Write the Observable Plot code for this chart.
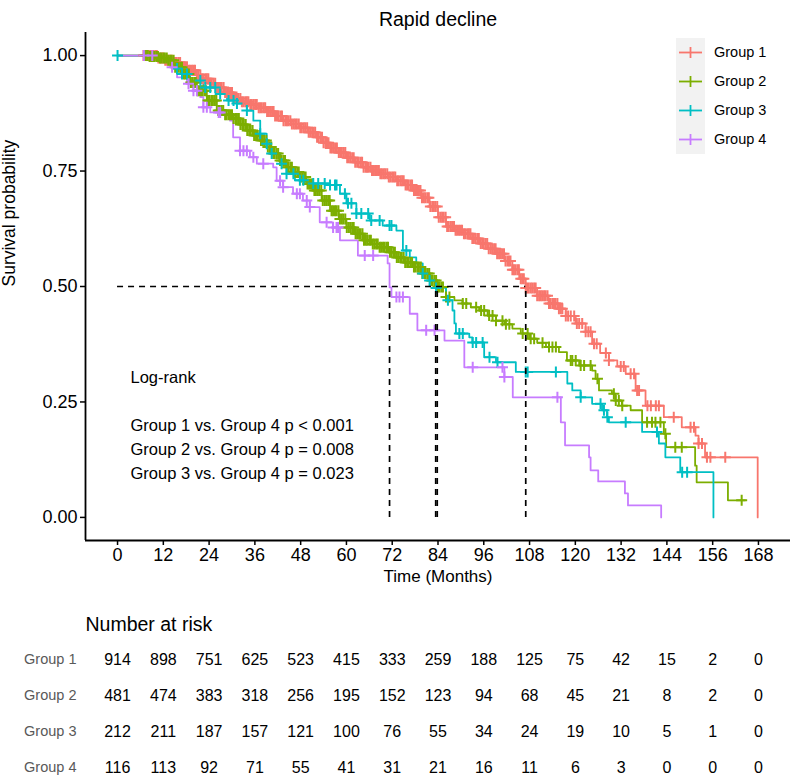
<!DOCTYPE html>
<html>
<head>
<meta charset="utf-8">
<script src="https://cdn.jsdelivr.net/npm/d3@7"></script>
<script src="https://cdn.jsdelivr.net/npm/@observablehq/plot@0.6"></script>
<style>
  body { margin: 0; background: #fff; font-family: "Liberation Sans", Arial, sans-serif; }
  #wrap { position: relative; width: 794px; height: 776px; overflow: hidden; }
  #wrap svg { display: block; }
  #legend { position: absolute; left: 676px; top: 38px; }
  .lrow { position: relative; height: 29px; width: 120px; }
  .lkey { position: absolute; left: 0; top: 0; width: 29px; height: 29px; background: #F2F2F2; }
  .llab { position: absolute; left: 38px; top: 0; line-height: 29px; font-size: 14.5px; color: #000; white-space: nowrap; }
</style>
</head>
<body>
<div id="wrap"><div id="legend"></div></div>
<script>
// ---------------- data ----------------
const groups = ["Group 1", "Group 2", "Group 3", "Group 4"];
const colors = ["#F8766D", "#7CAE00", "#00BFC4", "#C77CFF"];

// step curves: time (months) where survival drops, and the new survival value
const g1Time = [0, 10.5, 12.5, 14.5, 16.5, 18.5, 20.5, 22, 24, 26, 28, 30.3, 32.5, 34.7, 37, 39.1, 41.2, 43.4, 45.6, 47.8, 50, 52.2, 54, 55.7, 58, 60, 62.2, 64.3, 66.5, 68.7, 71, 73.1, 75.3, 77.4, 79.6, 81.8, 84, 86.1, 88.3, 90.4, 92.6, 94.8, 97, 99.2, 101.4, 103.5, 105.3, 107, 110, 113, 115.7, 117.5, 120.1, 122.7, 124.4, 126.5, 128.8, 131, 133.2, 135.8, 138.4, 143.2, 147.9, 151.5, 152.3, 154, 167.8];
const g1Surv = [1, 0.995, 0.99, 0.985, 0.976, 0.968, 0.958, 0.95, 0.94, 0.931, 0.92, 0.907, 0.9, 0.894, 0.887, 0.879, 0.869, 0.859, 0.852, 0.844, 0.834, 0.823, 0.811, 0.80, 0.79, 0.779, 0.769, 0.758, 0.751, 0.744, 0.737, 0.729, 0.72, 0.708, 0.692, 0.673, 0.65, 0.63, 0.622, 0.614, 0.604, 0.593, 0.582, 0.571, 0.555, 0.536, 0.517, 0.497, 0.48, 0.463, 0.452, 0.436, 0.42, 0.402, 0.376, 0.356, 0.34, 0.327, 0.311, 0.275, 0.242, 0.217, 0.195, 0.177, 0.16, 0.13, 0];

const g2Time = [0, 8, 11, 13, 15, 17.3, 19, 20.8, 23.4, 26, 28.2, 30.4, 32.2, 33.9, 35.6, 37.4, 39.1, 40.8, 42.6, 44.3, 46, 47.8, 49.5, 51.2, 53.5, 55.7, 58, 60, 62.2, 64.3, 66.5, 68.7, 71, 73.1, 75.3, 77.4, 79.6, 81.8, 83.8, 86.1, 88.3, 90.4, 92.6, 94.8, 97, 99.2, 101.4, 103.5, 105.7, 107.9, 110, 112.3, 115.7, 117.8, 121, 124.4, 125.3, 126.2, 129.6, 130.5, 132.2, 134.5, 137.5, 143.2, 143.8, 151.4, 151.8, 160, 164.5];
const g2Surv = [1, 0.998, 0.995, 0.99, 0.975, 0.96, 0.942, 0.924, 0.903, 0.881, 0.872, 0.864, 0.851, 0.838, 0.827, 0.816, 0.802, 0.788, 0.773, 0.758, 0.748, 0.737, 0.722, 0.708, 0.686, 0.664, 0.646, 0.628, 0.614, 0.60, 0.592, 0.585, 0.574, 0.563, 0.552, 0.542, 0.528, 0.513, 0.499, 0.477, 0.47, 0.463, 0.455, 0.448, 0.437, 0.426, 0.418, 0.409, 0.398, 0.387, 0.378, 0.369, 0.358, 0.34, 0.329, 0.318, 0.30, 0.275, 0.268, 0.253, 0.242, 0.232, 0.206, 0.181, 0.152, 0.112, 0.076, 0.037, 0.037];

const g3Time = [0, 12.5, 14.7, 16.5, 19, 22.5, 26, 28.7, 31.3, 33.9, 35.6, 37.4, 39.1, 40, 42.6, 44.3, 46.5, 49, 55.7, 58.3, 60, 62.6, 66.1, 69.5, 73.1, 74.8, 76.6, 78.3, 80, 81.8, 83.4, 86.1, 87.8, 88.3, 88.7, 92.2, 93, 96.1, 99.2, 104.4, 117.9, 119.2, 121.4, 124.4, 127, 128.3, 128.8, 137.5, 141.9, 143.6, 147.5, 156.2];
const g3Surv = [1, 0.985, 0.972, 0.96, 0.946, 0.931, 0.917, 0.903, 0.896, 0.881, 0.859, 0.831, 0.809, 0.788, 0.766, 0.744, 0.73, 0.723, 0.72, 0.701, 0.68, 0.658, 0.643, 0.632, 0.621, 0.578, 0.563, 0.55, 0.528, 0.513, 0.497, 0.47, 0.448, 0.42, 0.398, 0.39, 0.379, 0.347, 0.336, 0.315, 0.29, 0.275, 0.26, 0.246, 0.232, 0.217, 0.206, 0.185, 0.16, 0.13, 0.098, 0];

const g4Time = [0, 12.5, 13.8, 15.6, 18.2, 19.9, 21.7, 22.5, 24.3, 27.7, 29.5, 30.3, 32.1, 34.7, 36.5, 40.8, 41.7, 43.4, 46, 48.6, 50.4, 53, 56.5, 58.3, 63, 70.8, 71.3, 71.8, 76.6, 78.6, 85.7, 90.9, 101.4, 103.6, 116.2, 117.3, 123.6, 124, 126, 133, 133.8, 142.5];
const g4Surv = [1, 0.99, 0.975, 0.953, 0.939, 0.924, 0.91, 0.888, 0.877, 0.874, 0.859, 0.823, 0.794, 0.78, 0.766, 0.758, 0.729, 0.715, 0.701, 0.686, 0.672, 0.639, 0.628, 0.60, 0.567, 0.55, 0.498, 0.477, 0.441, 0.405, 0.383, 0.325, 0.304, 0.26, 0.206, 0.156, 0.13, 0.102, 0.078, 0.052, 0.026, 0];

// censoring times (months)
const g1Censor = [6.8, 7.2, 7.7, 8.1, 8.5, 9.0, 9.4, 9.9, 10.3, 10.7, 11.2, 11.6, 12.0, 12.5, 12.9, 13.3, 13.8, 14.2, 14.7, 15.1, 15.5, 16.0, 16.4, 16.8, 17.3, 17.7, 18.2, 18.6, 19.0, 19.5, 19.9, 20.3, 20.8, 21.2, 21.7, 22.1, 22.5, 23.0, 23.4, 23.8, 24.3, 24.7, 25.2, 25.6, 26.0, 26.5, 26.9, 27.3, 27.8, 28.2, 28.7, 29.1, 29.5, 30.0, 30.4, 30.8, 31.3, 31.7, 32.2, 32.6, 33.0, 33.5, 33.9, 34.3, 34.8, 35.2, 35.7, 36.1, 36.5, 37.0, 37.4, 37.8, 38.3, 38.7, 39.2, 39.6, 40.0, 40.5, 40.9, 41.3, 41.8, 42.2, 42.7, 43.1, 43.5, 44.0, 44.4, 44.8, 45.3, 45.7, 46.2, 46.6, 47.0, 47.5, 47.9, 48.3, 48.8, 49.2, 49.7, 50.1, 50.5, 51.0, 51.4, 51.8, 52.3, 52.7, 53.2, 53.6, 54.0, 54.5, 54.9, 55.3, 55.8, 56.2, 56.7, 57.1, 57.5, 58.0, 58.4, 58.8, 59.3, 59.7, 60.2, 60.6, 61.0, 61.5, 61.9, 62.3, 62.8, 63.2, 63.7, 64.1, 64.5, 65.0, 65.4, 65.8, 66.3, 66.7, 67.2, 67.6, 68.0, 68.5, 68.9, 69.3, 69.8, 70.2, 70.7, 71.1, 71.5, 72.0, 72.4, 72.8, 73.3, 73.7, 74.2, 74.6, 75.0, 75.5, 75.9, 76.3, 76.8, 77.2, 77.7, 78.1, 78.5, 79.0, 79.4, 79.8, 80.3, 80.7, 81.2, 81.6, 82.0, 82.5, 82.9, 83.3, 83.8, 84.2, 84.7, 85.1, 85.5, 86.0, 86.4, 86.8, 87.3, 87.7, 88.2, 88.6, 89.0, 89.5, 89.9, 90.3, 90.8, 91.2, 91.7, 92.1, 92.5, 93.0, 93.4, 93.8, 94.3, 94.7, 95.2, 95.6, 96.0, 96.5, 96.9, 97.3, 97.8, 98.2, 98.7, 99.1, 99.5, 100.0, 100.4, 100.8, 101.3, 101.7, 102.2, 102.6, 103.0, 103.5, 103.9, 104.3, 104.8, 105.2, 105.7, 106.1, 106.5, 107.0, 107.4, 107.8, 108.3, 108.7, 109.2, 109.6, 110.0, 110.5, 110.9, 111.3, 111.8, 112.2, 112.7, 113.1, 113.5, 114.0, 114.4, 114.8, 115.3, 115.7, 116.2, 116.6, 117.5, 118.1, 118.8, 119.7, 120.4, 121, 121.8, 122.7, 123.4, 124, 124.9, 125.6, 128, 128.8, 131.9, 132.7, 134.5, 135.4, 136.2, 136.7, 138.9, 139.8, 141.1, 141.9, 145.8, 150.2, 151.1, 152.3, 153.2, 154.5, 155.4, 159.3];
const g2Censor = [7.0, 7.5, 7.9, 8.4, 8.8, 9.3, 9.7, 10.2, 10.6, 11.1, 11.5, 12.0, 12.4, 12.9, 13.3, 13.8, 14.2, 14.7, 15.1, 15.6, 16.0, 16.5, 16.9, 17.4, 17.8, 18.3, 18.7, 19.2, 19.6, 20.1, 20.5, 21.0, 21.4, 21.9, 22.3, 22.8, 23.2, 23.7, 24.1, 24.6, 25.0, 25.5, 25.9, 26.4, 26.8, 27.3, 27.7, 28.2, 28.6, 29.1, 29.5, 30.0, 30.4, 30.9, 31.3, 31.8, 32.2, 32.7, 33.1, 33.6, 34.0, 34.5, 34.9, 35.4, 35.8, 36.3, 36.7, 37.2, 37.6, 38.1, 38.5, 39.0, 39.4, 39.9, 40.3, 40.8, 41.2, 41.7, 42.1, 42.6, 43.0, 43.5, 43.9, 44.4, 44.8, 45.3, 45.7, 46.2, 46.6, 47.1, 47.5, 48.0, 48.4, 48.9, 49.3, 49.8, 50.2, 50.7, 51.1, 51.6, 52.0, 52.5, 52.9, 53.4, 53.8, 54.3, 54.7, 55.2, 55.6, 56.1, 56.5, 57.0, 57.4, 57.9, 58.3, 58.8, 59.2, 59.7, 60.1, 60.6, 61.0, 61.5, 61.9, 62.4, 62.8, 63.3, 63.7, 64.2, 64.6, 65.1, 65.5, 66.0, 66.4, 66.9, 67.3, 67.8, 68.2, 68.7, 69.1, 69.6, 70.0, 70.5, 70.9, 71.4, 71.8, 72.3, 72.7, 73.2, 73.6, 74.1, 74.5, 75.0, 75.4, 75.9, 76.3, 76.8, 77.2, 77.7, 78.1, 78.6, 79.0, 79.5, 79.9, 80.4, 80.8, 81.3, 81.7, 82.2, 82.6, 83.1, 83.5, 84.0, 84.4, 84.9, 85.3, 86.1, 87, 90.5, 91.4, 94, 95.3, 96.1, 97.4, 98.3, 99.2, 100.9, 101.8, 102.7, 106.2, 107.5, 108.3, 109.2, 111.4, 113.1, 114, 114.9, 118.8, 119.2, 120.1, 121.4, 122.3, 124, 125.8, 130.1, 130.6, 131.4, 132.3, 138.8, 140.1, 141, 142.3, 143.6, 146.2, 147.9, 163.6];
const g3Censor = [0, 15.6, 16.9, 18.2, 21.7, 23, 24.3, 25.6, 26.9, 29.1, 30.4, 31.3, 33.9, 37.4, 39.1, 40.4, 43, 44.3, 46.1, 47.8, 48.7, 51.3, 52.6, 54.3, 55.7, 57, 57.4, 59.6, 60.4, 61.3, 62.6, 63.9, 65.7, 66.5, 68.7, 71.3, 71.8, 75.7, 80, 81.8, 83.5, 86.6, 89.6, 90.5, 93.1, 94, 95.7, 97.5, 99.6, 107, 107.5, 114.9, 121.4, 126.6, 127.5, 128.4, 133.2, 141.4, 148, 149.3];
const g4Censor = [6.9, 9.1, 14.3, 18.6, 19.9, 20.8, 22.5, 23.4, 26.5, 26.9, 32.1, 33, 33.9, 35.6, 38.2, 42.6, 43.4, 47, 47.8, 49.6, 50.4, 54.8, 56.5, 57.4, 57.8, 64.8, 67, 73.1, 73.9, 74.8, 80.9, 83.1, 93.1, 100.9, 101.4, 115.3];

// median survival times
const medians = [107, 83.8, 83.4, 71.3];

// log-rank annotation
const annoLines = ["Log-rank", "Group 1 vs. Group 4 p < 0.001", "Group 2 vs. Group 4 p = 0.008", "Group 3 vs. Group 4 p = 0.023"];
const annoY = [0.303, 0.199, 0.147, 0.095];
const annoX = 3.4;

// number at risk table
const riskTimes = [0, 12, 24, 36, 48, 60, 72, 84, 96, 108, 120, 132, 144, 156, 168];
const risk1 = [914, 898, 751, 625, 523, 415, 333, 259, 188, 125, 75, 42, 15, 2, 0];
const risk2 = [481, 474, 383, 318, 256, 195, 152, 123, 94, 68, 45, 21, 8, 2, 0];
const risk3 = [212, 211, 187, 157, 121, 100, 76, 55, 34, 24, 19, 10, 5, 1, 0];
const risk4 = [116, 113, 92, 71, 55, 41, 31, 21, 16, 11, 6, 3, 0, 0, 0];

const yTicks = [0, 0.25, 0.5, 0.75, 1];

// ---------------- build tables ----------------
const times = [g1Time, g2Time, g3Time, g4Time];
const survs = [g1Surv, g2Surv, g3Surv, g4Surv];
const censors = [g1Censor, g2Censor, g3Censor, g4Censor];
const risks = [risk1, risk2, risk3, risk4];

const curveData = groups.flatMap((g, i) => times[i].map((t, j) => ({group: g, time: t, surv: survs[i][j]})));
function survAt(i, t) {
  let s = 1;
  for (let j = 0; j < times[i].length; j++) if (times[i][j] <= t) s = survs[i][j];
  return s;
}
const censorData = groups.flatMap((g, i) => censors[i].map(t => ({group: g, time: t, surv: survAt(i, t)})));
const medianData = groups.map((g, i) => ({group: g, time: medians[i]}));
const annoData = annoLines.map((s, i) => ({text: s, x: annoX, y: annoY[i]}));
const riskData = groups.flatMap((g, i) => riskTimes.map((t, j) => ({group: g, time: t, n: risks[i][j]})));

const plusSymbol = {
  draw(context, size) {
    const h = Math.sqrt(size / Math.PI);
    context.moveTo(-h, 0); context.lineTo(h, 0);
    context.moveTo(0, -h); context.lineTo(0, h);
  }
};

const xDomain = [-8.4, 176.4];
const yDomain = [-0.05, 1.05];
const FONT = "Liberation Sans, Arial, sans-serif";

// ---------------- main chart ----------------
const chart = Plot.plot({
  width: 794,
  height: 600,
  marginLeft: 85,
  marginRight: 4,
  marginTop: 32,
  marginBottom: 60,
  style: {fontFamily: FONT, background: "#fff", color: "#000"},
  x: {domain: xDomain, label: null},
  y: {domain: yDomain, label: null},
  color: {domain: groups, range: colors},
  marks: [
    Plot.axisX({ticks: riskTimes, tickSize: 5, tickPadding: 3, fontSize: 18, strokeWidth: 1.5, label: null}),
    Plot.axisY({ticks: yTicks, tickFormat: d3.format(".2f"), tickSize: 5, tickPadding: 3, fontSize: 18, strokeWidth: 1.5, label: null}),
    Plot.ruleX([xDomain[0]], {y1: yDomain[0], y2: yDomain[1], stroke: "#000", strokeWidth: 1.8}),
    Plot.ruleY([yDomain[0]], {x1: xDomain[0], x2: xDomain[1], stroke: "#000", strokeWidth: 1.8}),
    Plot.line(curveData, {x: "time", y: "surv", z: "group", stroke: "group", curve: "step-after", strokeWidth: 1.8}),
    Plot.dot(censorData, {x: "time", y: "surv", stroke: "group", symbol: plusSymbol, r: 5.5, strokeWidth: 2, fill: "none"}),
    Plot.ruleY([0.5], {x1: 0, x2: d3.max(medians), stroke: "#000", strokeWidth: 1.7, strokeDasharray: "6,5"}),
    Plot.ruleX(medianData, {x: "time", y1: 0, y2: 0.5, stroke: "#000", strokeWidth: 1.7, strokeDasharray: "6,5"}),
    Plot.text(annoData, {x: "x", y: "y", text: "text", textAnchor: "start", fontSize: 16.5, fill: "#000"}),
    Plot.text(["Rapid decline"], {frameAnchor: "top", dy: -20, fontSize: 19.5, fill: "#000"}),
    Plot.text(["Time (Months)"], {frameAnchor: "bottom", dy: 41, fontSize: 17, fill: "#000"}),
    Plot.text(["Survival probability"], {frameAnchor: "left", dx: -76, rotate: -90, fontSize: 17.5, fill: "#000"})
  ]
});

// ---------------- risk table ----------------
const table = Plot.plot({
  width: 794,
  height: 176,
  marginLeft: 85,
  marginRight: 4,
  marginTop: 58,
  marginBottom: 9,
  style: {fontFamily: FONT, background: "#fff", color: "#000"},
  x: {domain: xDomain, axis: null},
  y: {type: "point", domain: groups, padding: 0, axis: null},
  marks: [
    Plot.text(["Number at risk"], {frameAnchor: "top-left", dy: -41, textAnchor: "start", fontSize: 19.5, fill: "#000"}),
    Plot.text(groups, {y: d => d, text: d => d, frameAnchor: "left", dx: -9, textAnchor: "end", fontSize: 14.5, fill: "#595959"}),
    Plot.text(riskData, {x: "time", y: "group", text: "n", fontSize: 16, fill: "#000"})
  ]
});

const wrap = document.getElementById("wrap");
wrap.insertBefore(chart, wrap.firstChild);
wrap.insertBefore(table, document.getElementById("legend"));

// ---------------- legend ----------------
const legend = document.getElementById("legend");
groups.forEach((g, i) => {
  const row = document.createElement("div");
  row.className = "lrow";
  row.innerHTML = `<div class="lkey"><svg width="29" height="29"><line x1="3" x2="26" y1="14.5" y2="14.5" stroke="${colors[i]}" stroke-width="1.8"/><line x1="14.5" x2="14.5" y1="9" y2="20" stroke="${colors[i]}" stroke-width="1.8"/></svg></div><div class="llab">${g}</div>`;
  legend.appendChild(row);
});
</script>
</body>
</html>
